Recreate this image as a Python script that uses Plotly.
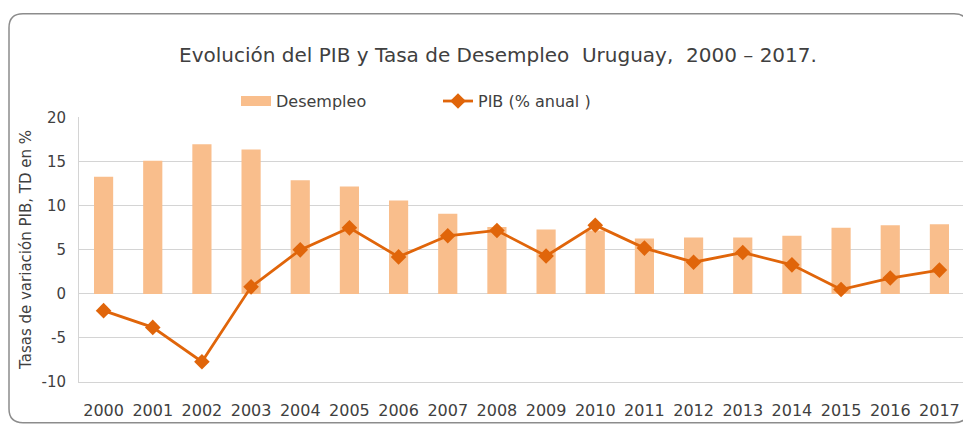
import plotly.graph_objects as go

years = ["2000", "2001", "2002", "2003", "2004", "2005", "2006", "2007", "2008",
         "2009", "2010", "2011", "2012", "2013", "2014", "2015", "2016", "2017"]
desempleo = [13.3, 15.1, 17.0, 16.4, 12.9, 12.2, 10.6, 9.1, 7.6,
             7.3, 7.2, 6.3, 6.4, 6.4, 6.6, 7.5, 7.8, 7.9]
pib = [-1.9, -3.8, -7.7, 0.8, 5.0, 7.5, 4.2, 6.6, 7.2,
       4.3, 7.8, 5.2, 3.6, 4.7, 3.3, 0.5, 1.8, 2.7]
y_ticks = [-10, -5, 0, 5, 10, 15, 20]
y_tick_labels = ["-10", "-5", "0", "5", "10", "15", "20"]

# page body has an 8px margin, so the figure is sized to fit the window
W, H = 963, 419
L, R, T, B = 71, 7, 109, 43
FONT = "DejaVu Sans"
TXT = "#404040"
BAR_C = "#F9BE8C"
LINE_C = "#E0650A"
GRID_C = "#d4d4d4"

fig = go.Figure()
fig.add_trace(go.Bar(x=years, y=desempleo, name="Desempleo", showlegend=False,
                     marker=dict(color=BAR_C, line=dict(width=0)),
                     width=0.39))
# legend entry for the bars drawn as a wide swatch
fig.add_trace(go.Scatter(x=[None], y=[None], name="Desempleo", mode="lines",
                         line=dict(color=BAR_C, width=10), legendrank=1))
fig.add_trace(go.Scatter(x=years, y=pib, name="PIB (% anual )", mode="lines+markers",
                         line=dict(color=LINE_C, width=2.8),
                         marker=dict(symbol="diamond", size=12, color=LINE_C),
                         legendrank=2))

pw, ph = W - L - R, H - T - B
def px(x):
    return (x - L) / pw
def py(y):
    return (H - B - y) / ph
x0, x1, y0, y1, r = 1, 960, 5, 417, 14
path = (f"M {px(x0 + r)},{py(y0)} L {px(x1 - r)},{py(y0)} "
        f"Q {px(x1)},{py(y0)} {px(x1)},{py(y0 + r)} "
        f"L {px(x1)},{py(y1 - r)} Q {px(x1)},{py(y1)} {px(x1 - r)},{py(y1)} "
        f"L {px(x0 + r)},{py(y1)} Q {px(x0)},{py(y1)} {px(x0)},{py(y1 - r)} "
        f"L {px(x0)},{py(y0 + r)} Q {px(x0)},{py(y0)} {px(x0 + r)},{py(y0)} Z")
fig.add_shape(type="path", path=path, xref="paper", yref="paper",
              line=dict(color="#8c8c8c", width=1.5), layer="below")

fig.update_layout(
    width=W, height=H,
    margin=dict(l=L, r=R, t=T, b=B),
    paper_bgcolor="white", plot_bgcolor="white",
    font=dict(family=FONT, color=TXT),
    title=dict(text="Evolución del PIB y Tasa de Desempleo  Uruguay,  2000 – 2017.",
               x=px(490), xanchor="center", y=1 - 47 / H, yanchor="middle",
               yref="container", xref="paper", font=dict(size=20, color=TXT)),
    legend=dict(orientation="h", x=px(228), xanchor="left", y=py(93), yanchor="middle",
                font=dict(size=16, color=TXT), entrywidth=157, bgcolor="rgba(0,0,0,0)"),
    showlegend=True,
)
fig.update_xaxes(range=[-0.5, len(years) - 0.5], showgrid=False,
                 showline=True, linecolor=GRID_C, linewidth=1,
                 ticks="outside", tickcolor="rgba(0,0,0,0)", ticklen=14,
                 tickfont=dict(size=16, color=TXT))
fig.update_yaxes(range=[-10, 20.08], tickvals=y_ticks, ticktext=y_tick_labels,
                 showgrid=True, gridcolor=GRID_C, gridwidth=1, zeroline=True,
                 zerolinecolor=GRID_C, zerolinewidth=1,
                 showline=True, linecolor=GRID_C, linewidth=1,
                 tickfont=dict(size=15, color=TXT),
                 ticks="outside", tickcolor="rgba(0,0,0,0)", ticklen=9,
                 title=dict(text="Tasas de variación PIB, TD en %",
                            font=dict(size=15, color=TXT), standoff=6))

fig.write_html("out.html")
